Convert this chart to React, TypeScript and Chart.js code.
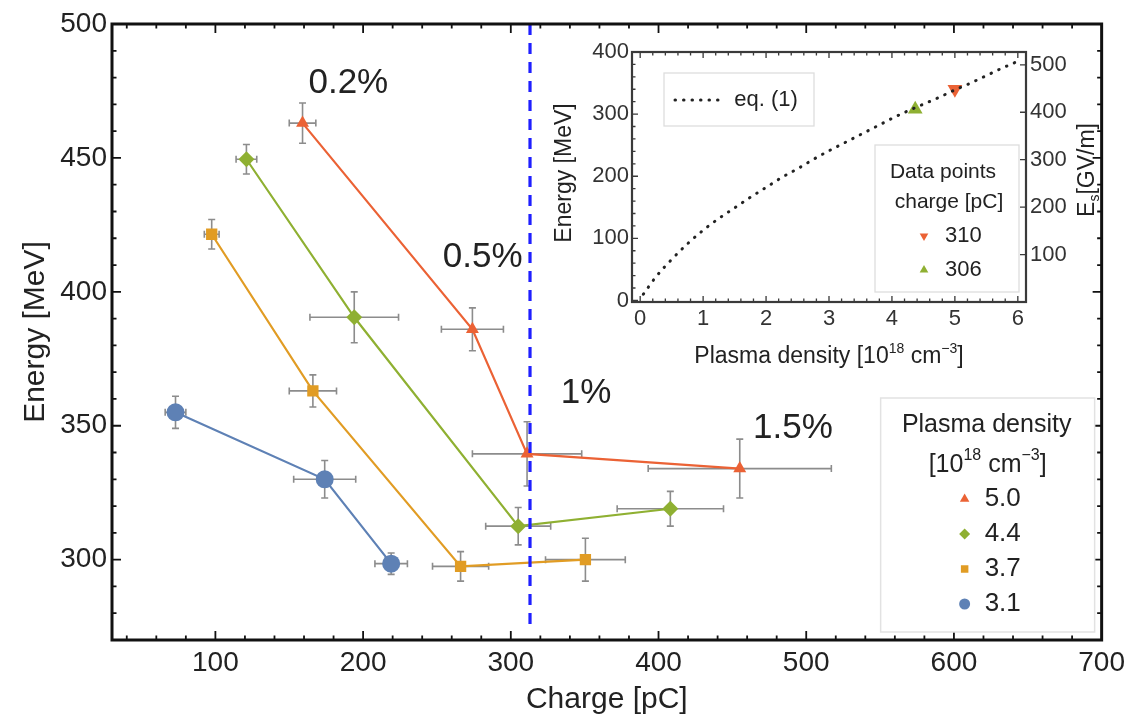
import React, { useEffect, useRef } from 'react';
import { Chart, registerables } from 'chart.js';
Chart.register(...registerables);

const FAMILY = '"Liberation Sans", Arial, Helvetica, sans-serif';
const TEXT = '#222222';

// ---------------- main chart data ----------------
const seriesLabels = ['5.0', '4.4', '3.7', '3.1'];
const seriesColors = ['#EB6235', '#8FB032', '#E19C24', '#5E81B5'];
const seriesMarkers = ['triangle', 'rectRot', 'rect', 'circle'];
const seriesRadius = [7.5, 8, 8, 9];

const charge50 = [159, 274, 311, 455];
const energy50 = [463, 386, 339.5, 334];
const chargeErr50 = [9, 21, 37, 62];
const energyErr50 = [7.5, 8, 12, 11];

const charge44 = [121, 194, 305, 408];
const energy44 = [449.5, 390.5, 312.5, 319];
const chargeErr44 = [7, 30, 22, 36];
const energyErr44 = [5.5, 9.5, 7, 6.5];

const charge37 = [97.5, 166, 266, 350.5];
const energy37 = [421.5, 363, 297.5, 300];
const chargeErr37 = [5, 16, 19, 27];
const energyErr37 = [5.5, 6, 5.5, 8];

const charge31 = [73, 174, 219];
const energy31 = [355, 330, 298.5];
const chargeErr31 = [7, 21, 11];
const energyErr31 = [6, 7, 4];

const chargeTicks = [100, 200, 300, 400, 500, 600, 700];
const energyTicks = [300, 350, 400, 450, 500];
const chargeMin = 30;
const chargeMax = 700;
const energyMin = 270;
const energyMax = 500;
const chargeMinorStep = 20;
const energyMinorStep = 10;

const thresholdCharge = 313;
const thresholdEnergyFrom = 275;
const thresholdEnergyTo = 500;

const spreadLabels = ['0.2%', '0.5%', '1%', '1.5%'];
const spreadCharge = [190, 281, 351, 491];
const spreadEnergy = [478, 413, 362, 349];

// ---------------- inset data ----------------
const densityCurve = [0.05, 0.25, 0.5, 0.75, 1, 1.25, 1.5, 1.75, 2, 2.25, 2.5, 2.75, 3, 3.25, 3.5, 3.75, 4, 4.25, 4.5, 4.75, 5, 5.25, 5.5, 5.75, 6];
const energyCurve = [10, 38, 66, 91, 113, 132, 149, 166, 182, 198, 212, 227, 241, 254, 267, 280, 293, 305, 316, 327, 339, 350, 362, 374, 385];
const insetDensity = [5.0, 4.37];
const insetEnergy = [340, 308];
const insetChargeLabels = ['310', '306'];
const insetColors = ['#EB6235', '#8FB032'];
const insetRotation = [180, 0];
const densityTicks = [0, 1, 2, 3, 4, 5, 6];
const insetEnergyTicks = [0, 100, 200, 300, 400];
const fieldTicks = [100, 200, 300, 400, 500];
const densityMin = -0.13;
const densityMax = 6.13;
const insetEnergyMin = -2.5;
const insetEnergyMax = 400;
const fieldMin = 0;
const fieldMax = 527;

type Seg = { t: string; s?: 'sup' | 'sub' };

function drawRich(ctx: CanvasRenderingContext2D, segs: Seg[], x: number, y: number, size: number, align: 'center' | 'left', rot = 0, color = TEXT) {
  ctx.save();
  ctx.translate(x, y);
  if (rot) ctx.rotate(rot);
  const small = Math.round(size * 0.62);
  const widths = segs.map((sg) => {
    ctx.font = `${sg.s ? small : size}px ${FAMILY}`;
    return ctx.measureText(sg.t).width;
  });
  const total = widths.reduce((a, b) => a + b, 0);
  let cx = align === 'center' ? -total / 2 : 0;
  ctx.textBaseline = 'middle';
  ctx.textAlign = 'left';
  ctx.fillStyle = color;
  segs.forEach((sg, i) => {
    ctx.font = `${sg.s ? small : size}px ${FAMILY}`;
    const dy = sg.s === 'sup' ? -size * 0.36 : sg.s === 'sub' ? size * 0.3 : 0;
    ctx.fillText(sg.t, cx, dy);
    cx += widths[i];
  });
  ctx.restore();
}

function drawMarker(ctx: CanvasRenderingContext2D, style: string, x: number, y: number, r: number, color: string, rot = 0) {
  ctx.save();
  ctx.translate(x, y);
  if (rot) ctx.rotate((rot * Math.PI) / 180);
  ctx.fillStyle = color;
  ctx.beginPath();
  if (style === 'triangle') {
    ctx.moveTo(0, -r);
    ctx.lineTo(r * 0.866, r / 2);
    ctx.lineTo(-r * 0.866, r / 2);
    ctx.closePath();
  } else if (style === 'rectRot') {
    ctx.moveTo(0, -r);
    ctx.lineTo(r, 0);
    ctx.lineTo(0, r);
    ctx.lineTo(-r, 0);
    ctx.closePath();
  } else if (style === 'rect') {
    ctx.rect(-r * 0.75, -r * 0.75, r * 1.5, r * 1.5);
  } else {
    ctx.arc(0, 0, r, 0, Math.PI * 2);
  }
  ctx.fill();
  ctx.restore();
}

const series = [
  { label: seriesLabels[0], x: charge50, y: energy50, ex: chargeErr50, ey: energyErr50 },
  { label: seriesLabels[1], x: charge44, y: energy44, ex: chargeErr44, ey: energyErr44 },
  { label: seriesLabels[2], x: charge37, y: energy37, ex: chargeErr37, ey: energyErr37 },
  { label: seriesLabels[3], x: charge31, y: energy31, ex: chargeErr31, ey: energyErr31 },
];

function drawFrameTicks(ctx: CanvasRenderingContext2D, area: any, xs: any, ys: any, xMajor: number[], xMinor: number[], yMajor: number[], yMinor: number[], color: string, width: number, majorLen: number, minorLen: number, yRight?: any, yRightMajor?: number[]) {
  ctx.save();
  ctx.strokeStyle = color;
  ctx.lineWidth = Math.max(1, width * 0.6);
  const { left, right, top, bottom } = area;
  ctx.beginPath();
  const tickX = (v: number, len: number) => {
    const p = xs.getPixelForValue(v);
    if (p <= left + 1 || p >= right - 1) return;
    ctx.moveTo(p, bottom);
    ctx.lineTo(p, bottom - len);
    ctx.moveTo(p, top);
    ctx.lineTo(p, top + len);
  };
  const tickY = (s: any, v: number, len: number, l = true, r = true) => {
    const p = s.getPixelForValue(v);
    if (p <= top + 1 || p >= bottom - 1) return;
    if (l) { ctx.moveTo(left, p); ctx.lineTo(left + len, p); }
    if (r) { ctx.moveTo(right, p); ctx.lineTo(right - len, p); }
  };
  xMajor.forEach((v) => tickX(v, majorLen));
  xMinor.forEach((v) => tickX(v, minorLen));
  const both = !yRight;
  yMajor.forEach((v) => tickY(ys, v, majorLen, true, both));
  yMinor.forEach((v) => tickY(ys, v, minorLen, true, both));
  if (yRight && yRightMajor) {
    yRightMajor.forEach((v) => tickY(yRight, v, majorLen, false, true));
  }
  ctx.stroke();
  ctx.lineWidth = width;
  ctx.strokeRect(left, top, right - left, bottom - top);
  ctx.restore();
}

const mainDecor = {
  id: 'mainDecor',
  beforeDatasetsDraw(chart: any) {
    const ctx = chart.ctx as CanvasRenderingContext2D;
    const xs = chart.scales.x;
    const ys = chart.scales.y;
    ctx.save();
    ctx.strokeStyle = 'rgba(120,120,120,0.85)';
    ctx.lineWidth = 1.6;
    const cap = 3.5;
    series.forEach((s) => {
      s.x.forEach((xv, i) => {
        const px = xs.getPixelForValue(xv);
        const py = ys.getPixelForValue(s.y[i]);
        const x1 = xs.getPixelForValue(xv - s.ex[i]);
        const x2 = xs.getPixelForValue(xv + s.ex[i]);
        const y1 = ys.getPixelForValue(s.y[i] - s.ey[i]);
        const y2 = ys.getPixelForValue(s.y[i] + s.ey[i]);
        ctx.beginPath();
        ctx.moveTo(x1, py); ctx.lineTo(x2, py);
        ctx.moveTo(x1, py - cap); ctx.lineTo(x1, py + cap);
        ctx.moveTo(x2, py - cap); ctx.lineTo(x2, py + cap);
        ctx.moveTo(px, y1); ctx.lineTo(px, y2);
        ctx.moveTo(px - cap, y1); ctx.lineTo(px + cap, y1);
        ctx.moveTo(px - cap, y2); ctx.lineTo(px + cap, y2);
        ctx.stroke();
      });
    });
    ctx.restore();
  },
  afterDatasetsDraw(chart: any) {
    const ctx = chart.ctx as CanvasRenderingContext2D;
    const xs = chart.scales.x;
    const ys = chart.scales.y;
    const area = chart.chartArea;

    // threshold dashed line
    ctx.save();
    ctx.strokeStyle = '#1f1fff';
    ctx.lineWidth = 3.2;
    ctx.setLineDash([11, 8]);
    const tx = xs.getPixelForValue(thresholdCharge);
    ctx.beginPath();
    ctx.moveTo(tx, ys.getPixelForValue(thresholdEnergyTo));
    ctx.lineTo(tx, ys.getPixelForValue(thresholdEnergyFrom));
    ctx.stroke();
    ctx.restore();

    // frame and ticks
    const xMinor: number[] = [];
    for (let v = 40; v < chargeMax; v += chargeMinorStep) if (v % 100 !== 0) xMinor.push(v);
    const yMinor: number[] = [];
    for (let v = energyMin + 10; v < energyMax; v += energyMinorStep) if (v % 50 !== 0) yMinor.push(v);
    drawFrameTicks(ctx, area, xs, ys, chargeTicks, xMinor, energyTicks, yMinor, '#111', 3, 9, 4.5);

    // spread annotations
    ctx.save();
    ctx.fillStyle = TEXT;
    ctx.font = `35px ${FAMILY}`;
    ctx.textAlign = 'center';
    ctx.textBaseline = 'middle';
    spreadLabels.forEach((t, i) => {
      ctx.fillText(t, xs.getPixelForValue(spreadCharge[i]), ys.getPixelForValue(spreadEnergy[i]));
    });
    ctx.restore();

    // legend
    const bx = area.right - 221;
    const by = area.bottom - 242;
    const bw = 214;
    const bh = 234;
    ctx.save();
    ctx.fillStyle = '#ffffff';
    ctx.fillRect(bx, by, bw, bh);
    ctx.strokeStyle = '#e2e2e2';
    ctx.lineWidth = 1.5;
    ctx.strokeRect(bx, by, bw, bh);
    ctx.restore();
    const cx = bx + 106;
    drawRich(ctx, [{ t: 'Plasma density' }], cx, by + 27, 25, 'center');
    drawRich(ctx, [{ t: '[10' }, { t: '18', s: 'sup' }, { t: ' cm' }, { t: '\u22123', s: 'sup' }, { t: ']' }], cx + 1, by + 67, 25, 'center');
    seriesLabels.forEach((lab, i) => {
      const yy = by + 101 + i * 35;
      drawMarker(ctx, seriesMarkers[i], bx + 84, yy, i === 2 ? 5 : 5.5, seriesColors[i]);
      ctx.save();
      ctx.fillStyle = TEXT;
      ctx.font = `26px ${FAMILY}`;
      ctx.textAlign = 'left';
      ctx.textBaseline = 'middle';
      ctx.fillText(lab, bx + 104, yy);
      ctx.restore();
    });
  },
};

function mainConfig(): any {
  return {
    type: 'scatter',
    data: {
      datasets: series.map((s, i) => ({
        label: s.label,
        data: s.x.map((xv, j) => ({ x: xv, y: s.y[j] })),
        showLine: true,
        borderColor: seriesColors[i],
        backgroundColor: seriesColors[i],
        borderWidth: 2.2,
        pointStyle: seriesMarkers[i],
        pointRadius: seriesRadius[i],
        pointBorderWidth: 0,
        pointHoverRadius: seriesRadius[i],
      })),
    },
    options: {
      animation: false,
      responsive: false,
      layout: { padding: { top: 24, right: 26, left: 0, bottom: 0 } },
      plugins: { legend: { display: false }, tooltip: { enabled: false } },
      scales: {
        x: {
          type: 'linear',
          min: chargeMin,
          max: chargeMax,
          afterBuildTicks: (s: any) => { s.ticks = chargeTicks.map((v) => ({ value: v })); },
          afterFit: (s: any) => { s.height = 85; },
          grid: { display: false, drawTicks: false },
          border: { display: false },
          ticks: { font: { family: FAMILY, size: 28 }, color: TEXT, padding: 6, maxRotation: 0 },
          title: { display: true, text: 'Charge [pC]', font: { family: FAMILY, size: 30 }, color: TEXT, padding: { top: 0, bottom: 7 } },
        },
        y: {
          type: 'linear',
          min: energyMin,
          max: energyMax,
          afterBuildTicks: (s: any) => { s.ticks = energyTicks.map((v) => ({ value: v })); },
          afterFit: (s: any) => { s.width = 112; },
          grid: { display: false, drawTicks: false },
          border: { display: false },
          ticks: { font: { family: FAMILY, size: 28 }, color: TEXT, padding: 5 },
          title: { display: true, text: 'Energy [MeV]', font: { family: FAMILY, size: 30 }, color: TEXT, padding: { top: 18, bottom: 0 } },
        },
      },
    },
    plugins: [mainDecor],
  };
}

const insetDecor = {
  id: 'insetDecor',
  afterDatasetsDraw(chart: any) {
    const ctx = chart.ctx as CanvasRenderingContext2D;
    const xs = chart.scales.x;
    const ys = chart.scales.y;
    const y1 = chart.scales.y1;
    const area = chart.chartArea;
    const xMinor: number[] = [];
    for (let v = 0.2; v < 6.1; v += 0.2) { const r = Math.round(v * 10) / 10; if (Math.abs(r - Math.round(r)) > 0.01) xMinor.push(r); }
    const yMinor: number[] = [];
    for (let v = 20; v < 400; v += 20) if (v % 100 !== 0) yMinor.push(v);
    drawFrameTicks(ctx, area, xs, ys, densityTicks, xMinor, insetEnergyTicks, yMinor, '#3a3a3a', 2.2, 6, 3.5, y1, fieldTicks);

    // legend boxes
    ctx.save();
    ctx.strokeStyle = '#dddddd';
    ctx.lineWidth = 1.3;
    ctx.fillStyle = 'rgba(255,255,255,0.9)';
    const ex = area.left + 32;
    const ey = area.top + 21;
    ctx.fillRect(ex, ey, 150, 53);
    ctx.strokeRect(ex, ey, 150, 53);
    const dx = area.left + 243;
    const dy = area.top + 93;
    ctx.fillRect(dx, dy, 144, 147);
    ctx.strokeRect(dx, dy, 144, 147);
    ctx.restore();

    // eq. (1) sample
    ctx.save();
    ctx.strokeStyle = '#222';
    ctx.lineWidth = 3;
    ctx.lineCap = 'round';
    ctx.setLineDash([0.5, 8]);
    ctx.beginPath();
    ctx.moveTo(ex + 11, ey + 27);
    ctx.lineTo(ex + 54, ey + 27);
    ctx.stroke();
    ctx.restore();
    drawRich(ctx, [{ t: 'eq. (1)' }], ex + 102, ey + 27, 22, 'center');

    drawRich(ctx, [{ t: 'Data points' }], dx + 68, dy + 27, 21, 'center');
    drawRich(ctx, [{ t: 'charge [pC]' }], dx + 74, dy + 57, 21, 'center');
    insetChargeLabels.forEach((lab, i) => {
      const yy = dy + 91 + i * 34;
      drawMarker(ctx, 'triangle', dx + 49, yy, 5, insetColors[i], insetRotation[i]);
      drawRich(ctx, [{ t: lab }], dx + 70, yy, 22, 'left');
    });

    // axis titles
    drawRich(ctx, [{ t: 'Energy [MeV]' }], 25, (area.top + area.bottom) / 2 - 4, 23, 'center', -Math.PI / 2);
    drawRich(ctx, [{ t: 'Plasma density [10' }, { t: '18', s: 'sup' }, { t: ' cm' }, { t: '\u22123', s: 'sup' }, { t: ']' }], (area.left + area.right) / 2, area.bottom + 55, 23, 'center');
    drawRich(ctx, [{ t: 'E' }, { t: 's', s: 'sub' }, { t: '[GV/m]' }], area.right + 62, (area.top + area.bottom) / 2 - 7, 23, 'center', -Math.PI / 2);
  },
};

function insetConfig(): any {
  const tickFont = { family: FAMILY, size: 22 };
  return {
    type: 'scatter',
    data: {
      datasets: [
        {
          label: 'eq. (1)',
          data: densityCurve.map((d, i) => ({ x: d, y: energyCurve[i] })),
          showLine: true,
          borderColor: '#222',
          borderWidth: 3,
          borderDash: [0.5, 8],
          borderCapStyle: 'round',
          pointRadius: 0,
          cubicInterpolationMode: 'monotone',
        },
        ...insetChargeLabels.map((lab, i) => ({
          label: lab,
          data: [{ x: insetDensity[i], y: insetEnergy[i] }],
          pointStyle: 'triangle',
          rotation: insetRotation[i],
          pointRadius: 8.5,
          pointBorderWidth: 0,
          backgroundColor: insetColors[i],
          borderColor: insetColors[i],
        })),
      ],
    },
    options: {
      animation: false,
      responsive: false,
      layout: { padding: { top: 22, right: 0, left: 0, bottom: 0 } },
      plugins: { legend: { display: false }, tooltip: { enabled: false } },
      scales: {
        x: {
          type: 'linear',
          min: densityMin,
          max: densityMax,
          afterBuildTicks: (s: any) => { s.ticks = densityTicks.map((v) => ({ value: v })); },
          afterFit: (s: any) => { s.height = 78; },
          grid: { display: false, drawTicks: false },
          border: { display: false },
          ticks: { font: tickFont, color: '#333', padding: 4, maxRotation: 0 },
        },
        y: {
          type: 'linear',
          min: insetEnergyMin,
          max: insetEnergyMax,
          afterBuildTicks: (s: any) => { s.ticks = insetEnergyTicks.map((v) => ({ value: v })); },
          afterFit: (s: any) => { s.width = 92; },
          grid: { display: false, drawTicks: false },
          border: { display: false },
          ticks: { font: tickFont, color: '#333', padding: 3 },
        },
        y1: {
          type: 'linear',
          position: 'right',
          min: fieldMin,
          max: fieldMax,
          afterBuildTicks: (s: any) => { s.ticks = fieldTicks.map((v) => ({ value: v })); },
          afterFit: (s: any) => { s.width = 74; },
          grid: { display: false, drawTicks: false },
          border: { display: false },
          ticks: { font: tickFont, color: '#333', padding: 4 },
        },
      },
    },
    plugins: [insetDecor],
  };
}

export default function App() {
  const mainRef = useRef<HTMLCanvasElement>(null);
  const insetRef = useRef<HTMLCanvasElement>(null);
  useEffect(() => {
    document.body.style.margin = '0';
    const main = new Chart(mainRef.current as HTMLCanvasElement, mainConfig());
    const inset = new Chart(insetRef.current as HTMLCanvasElement, insetConfig());
    return () => {
      main.destroy();
      inset.destroy();
    };
  }, []);
  return (
    <div style={{ position: 'relative', width: 1131, height: 725, background: '#fff', overflow: 'hidden' }}>
      <canvas ref={mainRef} width={1131} height={725} style={{ position: 'absolute', left: 0, top: 0, width: 1131, height: 725 }} />
      <canvas ref={insetRef} width={560} height={350} style={{ position: 'absolute', left: 540, top: 30, width: 560, height: 350 }} />
    </div>
  );
}
